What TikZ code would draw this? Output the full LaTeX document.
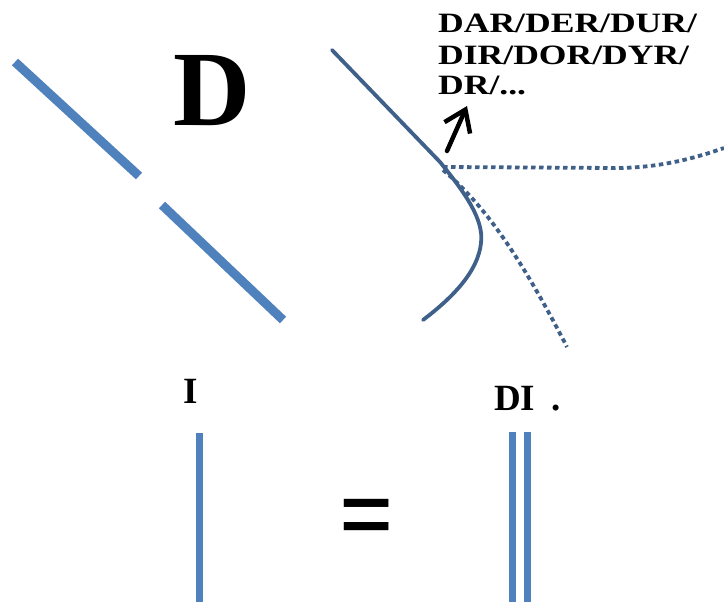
\documentclass[tikz,border=0pt]{standalone}
\usepackage{fontspec}
\setmainfont{Liberation Serif}
\usetikzlibrary{arrows.meta}
\definecolor{lineblue}{HTML}{4F81BD}
\definecolor{curveblue}{HTML}{3E6089}
\tikzset{
  thickbar/.style={lineblue, line width=9pt},
  vbar/.style={lineblue, line width=7.5pt},
  curveline/.style={curveblue, line width=3.8pt, line cap=round},
  dotline/.style={curveblue, line width=3.8pt, dash pattern=on 4.5pt off 3.5pt},
  lbl/.style={inner sep=0pt, font=\bfseries},
  toplbl/.style={inner sep=0pt, anchor=base west, font=\bfseries\fontsize{28}{31}\selectfont},
}
\begin{document}
\begin{tikzpicture}[x=1pt, y=-1pt]
\useasboundingbox[fill=white] (0,0) rectangle (724,602);
% left broken diagonal
\coordinate (a1) at (15,62);
\coordinate (a2) at (139,176);
\coordinate (b1) at (162,205);
\coordinate (b2) at (283,320);
\draw[thickbar] (a1) -- (a2);
\draw[thickbar] (b1) -- (b2);
% big D
\node[lbl, anchor=base, font=\bfseries\fontsize{107}{110}\selectfont] (bigD) at (212,125) {D};
% solid curve
\coordinate (c0) at (332,50);
\coordinate (cj) at (440,162);
\coordinate (cm) at (481,243);
\coordinate (ce) at (423,320);
\draw[curveline] (c0) -- (cj) .. controls (466,194) and (484,220) .. (cm) .. controls (478,272) and (452,298) .. (ce);
% dotted curves
\coordinate (d0) at (443,167);
\coordinate (d1) at (724,148);
\coordinate (e1) at (567,347);
\draw[dotline] (d0) -- (615,168) .. controls (655,168) and (690,160) .. (d1);
\draw[dotline] (443,170) .. controls (482,203) and (517,250) .. (e1);
% top text
\node[toplbl] (t1) at (438,33) {\scalebox{1.27}[1]{DAR/DER/DUR/}};
\node[toplbl] (t2) at (438,65) {\scalebox{1.27}[1]{DIR/DOR/DYR/}};
\node[toplbl] (t3) at (438,95) {\scalebox{1.27}[1]{DR/...}};
% arrow
\coordinate (ar0) at (447,151);
\coordinate (ar1) at (467,106);
\draw[black, line width=4.5pt, line cap=round, -{Straight Barb[length=20pt, width=28pt, line width=4.5pt]}] (ar0) -- (ar1);
% bottom labels
\node[lbl, anchor=base, font=\bfseries\fontsize{37}{40}\selectfont] (I) at (191,403) {I};
\node[lbl, anchor=base west, font=\bfseries\fontsize{37}{40}\selectfont] (DI) at (494,410) {DI\hspace{16pt}.};
\node[lbl, anchor=center, font=\bfseries\fontsize{80}{80}\selectfont] (eq) at (367,526) {\scalebox{1.2}[1.45]{=}};
% vertical bars
\coordinate (v1t) at (199.5,433);
\coordinate (v1b) at (199.5,602);
\coordinate (v2t) at (512.5,432);
\coordinate (v2b) at (512.5,602);
\coordinate (v3t) at (527.5,432);
\coordinate (v3b) at (527.5,602);
\draw[vbar] (v1t) -- (v1b);
\draw[vbar] (v2t) -- (v2b);
\draw[vbar] (v3t) -- (v3b);
\end{tikzpicture}
\end{document}
